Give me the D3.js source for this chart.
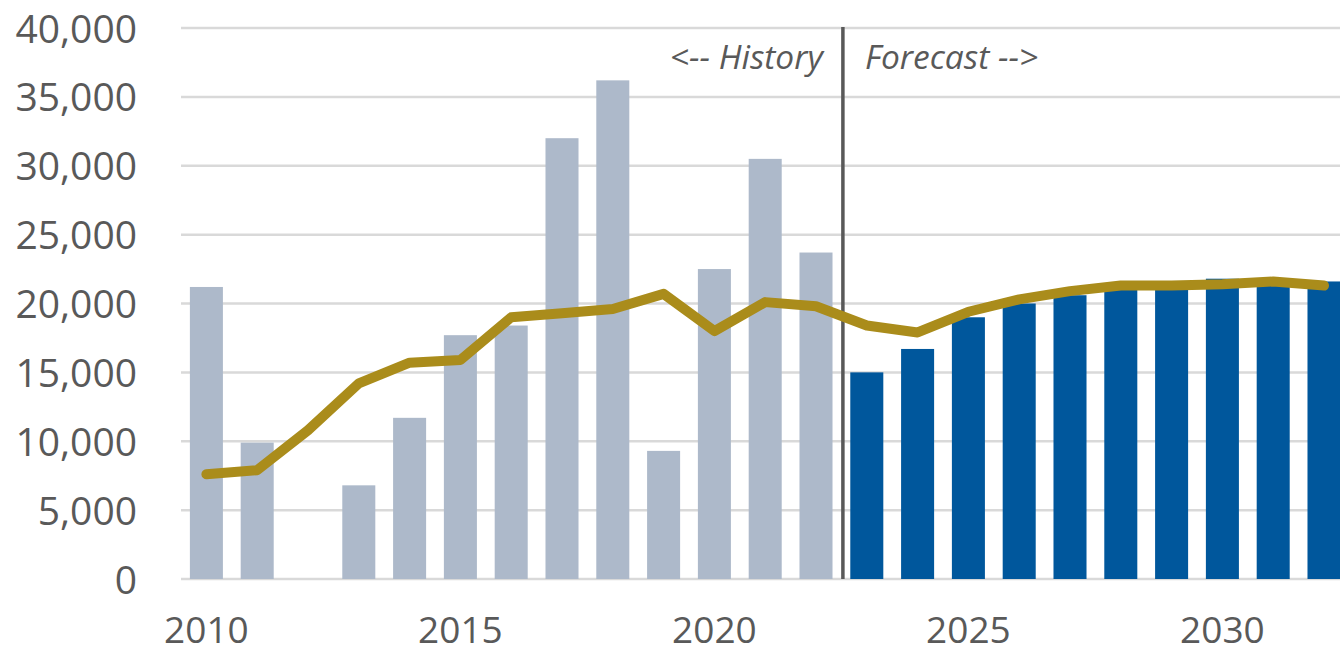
<!DOCTYPE html>
<html>
<head>
<meta charset="utf-8">
<script src="https://cdn.jsdelivr.net/npm/d3@7"></script>
<style>
  html, body { margin: 0; padding: 0; background: #fff; }
  svg { display: block; }
  text { font-family: "Open Sans", "Noto Sans", sans-serif; fill: #595959; }
</style>
</head>
<body>
<svg id="chart" width="1340" height="654"></svg>
<script>
// ---- data ----
const years = [2010, 2011, 2012, 2013, 2014, 2015, 2016, 2017, 2018, 2019, 2020, 2021, 2022,
               2023, 2024, 2025, 2026, 2027, 2028, 2029, 2030, 2031, 2032];
const barValues = [21200, 9900, 0, 6800, 11700, 17700, 18400, 32000, 36200, 9300, 22500, 30500, 23700,
                   15000, 16700, 19000, 20000, 20600, 21000, 21100, 21800, 21700, 21600];
const lineValues = [7600, 7900, 10800, 14200, 15700, 15900, 19000, 19300, 19600, 20700, 18000, 20100, 19800,
                    18400, 17900, 19400, 20300, 20900, 21300, 21300, 21400, 21600, 21300];
const lastHistoryYear = 2022;
const yTicks = [0, 5000, 10000, 15000, 20000, 25000, 30000, 35000, 40000];
const xTickYears = [2010, 2015, 2020, 2025, 2030];
const historyLabel = "<-- History";
const forecastLabel = "Forecast -->";

// ---- layout ----
const svg = d3.select("#chart");
const plotLeft = 181, plotRight = 1349.4, plotTop = 28, plotBottom = 579;

const x = d3.scaleBand()
  .domain(years)
  .range([plotLeft, plotRight])
  .paddingInner(0.35)
  .paddingOuter(0.175);
const y = d3.scaleLinear().domain([0, 40000]).range([plotBottom, plotTop]);
const cx = d => x(d) + x.bandwidth() / 2;

// gridlines
svg.append("g")
  .selectAll("line")
  .data(yTicks)
  .join("line")
  .attr("x1", plotLeft)
  .attr("x2", 1340)
  .attr("y1", d => y(d))
  .attr("y2", d => y(d))
  .attr("stroke", "#d9d9d9")
  .attr("stroke-width", 2.5);

// y axis labels
const yAxis = d3.axisLeft(y).tickValues(yTicks).tickFormat(d3.format(",")).tickSize(0).tickPadding(0);
const yg = svg.append("g").attr("transform", `translate(137,0)`).call(yAxis);
yg.select(".domain").remove();
yg.selectAll("text")
  .attr("font-size", 39)
  .attr("fill", "#595959")
  .attr("font-family", "'Open Sans', sans-serif")
  .attr("dy", "0.36em");

// x axis labels
const xAxis = d3.axisBottom(x).tickValues(xTickYears).tickSize(0).tickPadding(0);
const xg = svg.append("g").attr("transform", `translate(0,${plotBottom})`).call(xAxis);
xg.select(".domain").remove();
xg.selectAll("text")
  .attr("font-size", 37)
  .attr("fill", "#595959")
  .attr("font-family", "'Open Sans', sans-serif")
  .attr("y", 64)
  .attr("dy", 0);

// bars
const data = years.map((yr, i) => ({ year: yr, bar: barValues[i], line: lineValues[i] }));
svg.append("g")
  .selectAll("rect")
  .data(data.filter(d => d.bar > 0))
  .join("rect")
  .attr("x", d => x(d.year))
  .attr("width", x.bandwidth())
  .attr("y", d => y(d.bar))
  .attr("height", d => y(0) - y(d.bar))
  .attr("fill", d => d.year <= lastHistoryYear ? "#adb9ca" : "#00579c");

// divider
const divX = (cx(lastHistoryYear) + cx(lastHistoryYear + 1)) / 2 + 1.5;
svg.append("line")
  .attr("x1", divX).attr("x2", divX)
  .attr("y1", plotTop - 1).attr("y2", plotBottom)
  .attr("stroke", "#595959")
  .attr("stroke-width", 3.5);

// line
const line = d3.line().x(d => cx(d.year)).y(d => y(d.line));
svg.append("path")
  .datum(data)
  .attr("d", line)
  .attr("fill", "none")
  .attr("stroke", "#aa8c1b")
  .attr("stroke-width", 10)
  .attr("stroke-linejoin", "round")
  .attr("stroke-linecap", "round");

// annotations
svg.append("text")
  .attr("x", divX - 20)
  .attr("y", 69)
  .attr("text-anchor", "end")
  .attr("font-size", 33.5)
  .attr("font-style", "italic")
  .text(historyLabel);
svg.append("text")
  .attr("x", divX + 22)
  .attr("y", 69)
  .attr("text-anchor", "start")
  .attr("font-size", 33.5)
  .attr("font-style", "italic")
  .text(forecastLabel);
</script>
</body>
</html>
